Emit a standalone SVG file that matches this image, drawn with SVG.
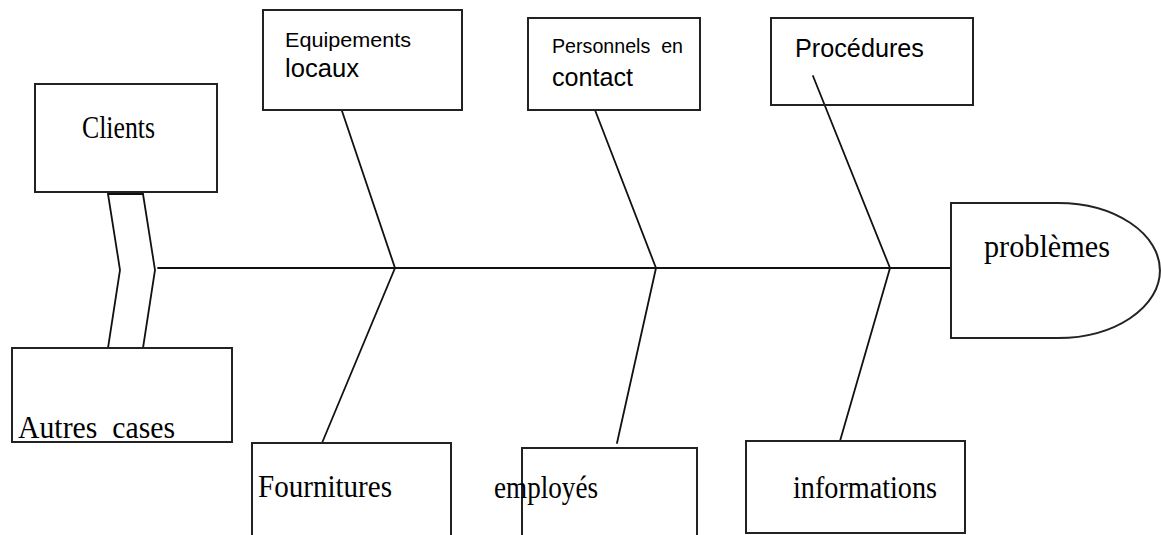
<svg xmlns="http://www.w3.org/2000/svg" width="1161" height="535" viewBox="0 0 1161 535">
<style>
.box{fill:none;stroke:#222;stroke-width:2;stroke-linecap:round}
.ln{fill:none;stroke:#111;stroke-width:1.8;stroke-linecap:round;stroke-linejoin:miter}
.serif{font-family:"Liberation Serif","Times New Roman",serif;font-size:32px;fill:#000;white-space:pre}
.sans{font-family:"Liberation Sans",Arial,sans-serif;fill:#000;white-space:pre}
</style>
<rect width="1161" height="535" fill="#fff"/>
<g id="connectors">
<line class="ln" x1="158" y1="268" x2="951" y2="268"/>
<polyline class="ln" points="342,111 395,268 322,443"/>
<polyline class="ln" points="595,110 656,268 617,443"/>
<polyline class="ln" points="813,76 890,268 840,441"/>
<polyline class="ln" points="108,194 120,270 108,348"/>
<polyline class="ln" points="143,194 155,270 143,348"/>
<line class="ln" x1="108" y1="194" x2="143" y2="194" stroke-width="3"/>
</g>
<g id="clients">
<path class="box" d="M35,84 H217 V192 H35 Z"/>
<text class="serif" x="82" y="138" textLength="73" lengthAdjust="spacingAndGlyphs">Clients</text>
</g>
<g id="autres-cases">
<path class="box" d="M12,348 H232 V442 H12 Z"/>
<text class="serif" x="18" y="438" textLength="157" lengthAdjust="spacingAndGlyphs">Autres  cases</text>
</g>
<g id="equipements-locaux">
<rect class="box" x="263" y="10" width="199" height="100"/>
<text class="sans" x="285" y="47" font-size="21" textLength="126" lengthAdjust="spacingAndGlyphs">Equipements</text>
<text class="sans" x="285" y="77" font-size="25" textLength="74" lengthAdjust="spacingAndGlyphs">locaux</text>
</g>
<g id="personnels-en-contact">
<rect class="box" x="528" y="18" width="172" height="92"/>
<text class="sans" x="552" y="53" font-size="21" textLength="131" lengthAdjust="spacingAndGlyphs">Personnels  en</text>
<text class="sans" x="552" y="86" font-size="25" textLength="81" lengthAdjust="spacingAndGlyphs">contact</text>
</g>
<g id="procedures">
<rect class="box" x="771" y="18" width="202" height="87"/>
<text class="sans" x="795" y="57" font-size="25" textLength="129" lengthAdjust="spacingAndGlyphs">Procédures</text>
</g>
<g id="problemes">
<path class="box" d="M951,203 H1058 A102,67.5 0 0 1 1058,338 H951 Z"/>
<text class="serif" x="984" y="257" textLength="126" lengthAdjust="spacingAndGlyphs">problèmes</text>
</g>
<g id="fournitures">
<path class="box" d="M252,540 V443 H451 V540"/>
<text class="serif" x="258" y="497" textLength="134" lengthAdjust="spacingAndGlyphs">Fournitures</text>
</g>
<g id="employes">
<path class="box" d="M522,540 V448 H697 V540"/>
<text class="serif" x="494" y="498" textLength="104" lengthAdjust="spacingAndGlyphs">employés</text>
</g>
<g id="informations">
<rect class="box" x="746" y="441" width="219" height="92"/>
<text class="serif" x="793" y="498" textLength="144" lengthAdjust="spacingAndGlyphs">informations</text>
</g>
</svg>
